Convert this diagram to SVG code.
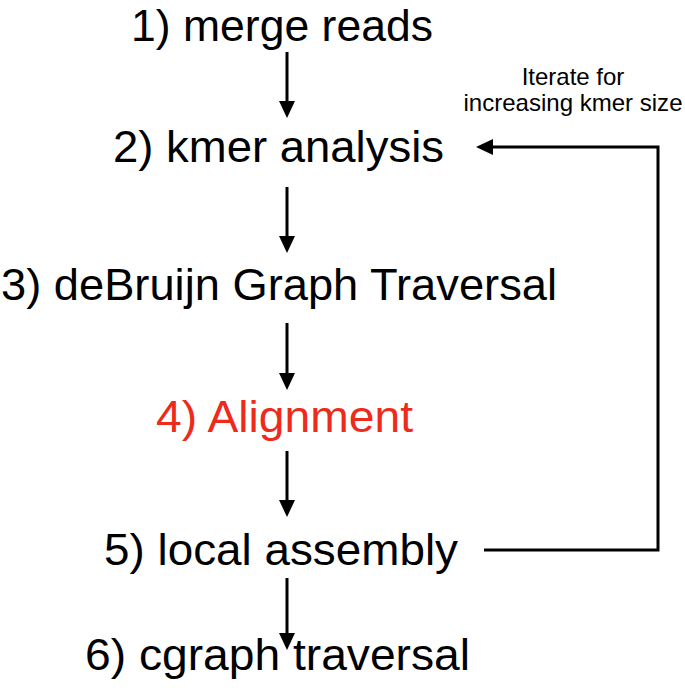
<svg xmlns="http://www.w3.org/2000/svg" width="685" height="688" viewBox="0 0 685 688">
<style>
.lbl{font-family:"Liberation Sans",Arial,Helvetica,sans-serif;font-size:44px;fill:#000}
.red{fill:#ee2a1b}
.note{font-family:"Liberation Sans",Arial,Helvetica,sans-serif;font-size:24px;fill:#000;text-anchor:middle}
.conn{stroke:#000;stroke-width:3;fill:none}
</style>
<defs>
<marker id="ah" markerUnits="userSpaceOnUse" markerWidth="18" markerHeight="16" refX="3" refY="8" orient="auto">
<path d="M0,0 L17,8 L0,16 z" fill="#000"/>
</marker>
</defs>
<rect width="685" height="688" fill="#fff"/>
<g id="n1"><text class="lbl" x="131" y="40.5" textLength="302" lengthAdjust="spacingAndGlyphs">1) merge reads</text></g>
<g id="n2"><text class="lbl" x="113" y="162" textLength="331" lengthAdjust="spacingAndGlyphs">2) kmer analysis</text></g>
<g id="n3"><text class="lbl" x="1" y="300" textLength="556" lengthAdjust="spacingAndGlyphs">3) deBruijn Graph Traversal</text></g>
<g id="n4"><text class="lbl red" x="156" y="432" textLength="257" lengthAdjust="spacingAndGlyphs">4) Alignment</text></g>
<g id="n5"><text class="lbl" x="104" y="565" textLength="354" lengthAdjust="spacingAndGlyphs">5) local assembly</text></g>
<g id="n6"><text class="lbl" x="85" y="670" textLength="385" lengthAdjust="spacingAndGlyphs">6) cgraph traversal</text></g>
<g id="note"><text class="note" x="573" y="85">Iterate for</text><text class="note" x="573" y="111" textLength="219" lengthAdjust="spacingAndGlyphs">increasing kmer size</text></g>
<g id="connectors">
<path class="conn" d="M287,52 V104" marker-end="url(#ah)"/>
<path class="conn" d="M287,187 V239" marker-end="url(#ah)"/>
<path class="conn" d="M287,323 V376" marker-end="url(#ah)"/>
<path class="conn" d="M287,451 V503" marker-end="url(#ah)"/>
<path class="conn" d="M287,578 V636" marker-end="url(#ah)"/>
<path class="conn" d="M484,550 H658 V147 H490" marker-end="url(#ah)"/>
</g>
</svg>
